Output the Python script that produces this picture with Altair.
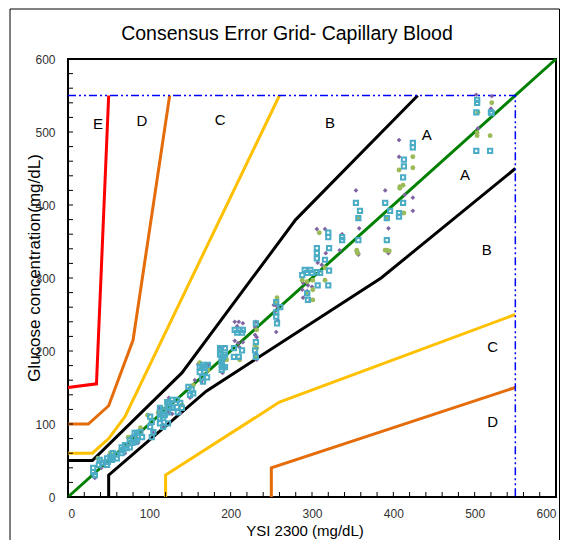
import altair as alt
import pandas as pd

# ---------------- text ----------------
title_text = "Consensus Error Grid- Capillary Blood"
x_title = "YSI 2300 (mg/dL)"
y_title = "Glucose concentration(mg/dL)"
tick_labels = [0, 100, 200, 300, 400, 500, 600]
minor_ticks = [0, 20, 40, 60, 80, 100, 120, 140, 160, 180, 200, 220, 240, 260, 280,
               300, 320, 340, 360, 380, 400, 420, 440, 460, 480, 500, 520, 540, 560, 580, 600]

# ---------------- zone boundaries (x, y) ----------------
diag = [(0, 0), (600, 600)]
black_upper = [(0, 50), (30, 50), (140, 170), (280, 380), (430, 550)]
black_lower = [(50, 0), (50, 30), (170, 145), (385, 300), (550, 450)]
yellow_upper = [(0, 60), (30, 60), (50, 80), (70, 110), (260, 550)]
yellow_lower = [(120, 0), (120, 30), (260, 130), (550, 250)]
orange_upper = [(0, 100), (25, 100), (50, 125), (80, 215), (125, 550)]
orange_lower = [(250, 0), (250, 40), (550, 150)]
red_upper = [(0, 150), (35, 155), (50, 550)]
limit_box = [(0, 550), (550, 550), (550, 0)]

# zone letters
zone_letters = ["E", "D", "C", "B", "A", "A", "B", "C", "D"]
zone_x = [37, 91, 187, 322, 441, 488, 515, 522, 522]
zone_y = [511, 515, 516, 512, 496, 441, 338, 205, 103]

# ---------------- measurements ----------------
purple_pts = [(33, 26), (41, 40), (45, 47), (70, 60), (80, 84), (86, 74), (91, 92), (103, 92),
              (105, 88), (123, 116), (125, 115), (116, 96), (112, 122), (117, 99), (124, 136),
              (128, 114), (135, 130), (138, 115), (150, 136), (156, 160), (160, 182), (172, 181),
              (164, 158), (190, 205), (190, 170), (186, 205), (189, 204), (205, 240), (210, 240),
              (208, 234), (215, 238), (205, 214), (209, 211), (215, 212), (211, 205), (231, 240),
              (230, 233), (230, 222), (232, 219), (231, 197), (232, 188), (253, 263), (258, 260),
              (254, 252), (258, 242), (256, 226), (255, 263), (289, 293), (295, 290), (300, 288),
              (288, 284), (294, 282), (289, 273), (298, 270), (306, 367), (316, 367), (337, 360),
              (317, 334), (334, 338), (307, 321), (312, 318), (355, 336), (357, 332), (354, 420),
              (358, 368), (357, 334), (390, 420), (392, 382), (394, 368), (394, 334), (414, 414),
              (424, 410), (424, 392), (407, 489), (407, 466), (502, 551), (521, 549), (520, 532),
              (504, 505)]

green_pts = [(37, 53), (52, 60), (74, 82), (89, 95), (98, 112), (111, 115), (120, 122), (140, 126),
             (154, 153), (162, 184), (172, 174), (193, 188), (195, 188), (211, 188), (232, 229),
             (230, 208), (232, 204), (231, 192), (257, 273), (255, 267), (288, 297), (294, 295),
             (301, 297), (316, 297), (295, 279), (301, 284), (301, 270), (309, 362), (316, 314),
             (356, 334), (355, 338), (357, 382), (392, 338), (395, 337), (390, 338), (408, 425),
             (412, 427), (413, 389), (424, 466), (407, 448), (424, 451), (408, 423), (521, 540),
             (504, 527), (503, 499), (503, 495), (519, 495), (392, 382)]

cyan_pts = [(31, 40), (31, 34), (33, 30), (39, 51), (42, 47), (38, 44), (48, 53), (52, 55), (49, 48),
            (54, 51), (48, 44), (55, 60), (59, 58), (55, 53), (60, 53), (66, 68), (70, 71), (68, 64),
            (72, 67), (66, 60), (76, 78), (80, 81), (79, 74), (82, 75), (76, 68), (82, 88), (85, 88),
            (89, 89), (86, 82), (91, 82), (85, 78), (101, 110), (103, 103), (101, 96), (105, 89),
            (103, 82), (113, 122), (117, 119), (116, 112), (119, 112), (113, 108), (117, 96),
            (123, 101), (123, 129), (128, 133), (125, 123), (113, 116), (117, 108), (113, 101),
            (122, 130), (125, 129), (123, 123), (128, 122), (123, 116), (134, 133), (138, 129),
            (134, 123), (140, 122), (135, 116), (148, 151), (152, 147), (150, 140), (154, 142),
            (162, 178), (168, 178), (162, 171), (168, 171), (165, 164), (171, 164), (166, 158),
            (187, 204), (193, 204), (187, 195), (193, 195), (189, 185), (193, 178), (189, 174),
            (166, 181), (172, 181), (165, 177), (187, 201), (187, 197), (191, 192), (189, 188),
            (189, 181), (191, 178), (205, 229), (211, 229), (215, 229), (208, 225), (214, 225),
            (204, 204), (214, 201), (204, 192), (210, 192), (231, 238), (231, 212), (230, 201),
            (231, 192), (256, 267), (256, 253), (256, 247), (257, 238), (261, 260), (291, 311),
            (298, 311), (294, 307), (300, 307), (288, 304), (306, 308), (310, 307), (307, 290),
            (320, 290), (294, 279), (295, 270), (320, 362), (320, 356), (337, 356), (337, 352),
            (306, 341), (306, 334), (306, 327), (321, 341), (316, 325), (321, 310), (354, 403),
            (359, 392), (357, 382), (357, 352), (390, 403), (396, 392), (392, 382), (392, 352),
            (412, 403), (407, 389), (407, 384), (424, 485), (424, 479), (413, 462), (413, 453),
            (412, 438), (503, 544), (503, 540), (502, 527), (520, 527), (521, 526), (502, 474),
            (519, 474)]

# ---------------- build tables ----------------
line_names = ["green", "black_u", "black_l", "yellow_u", "yellow_l", "orange_u", "orange_l", "red_u"]
line_sets = [diag, black_upper, black_lower, yellow_upper, yellow_lower, orange_upper, orange_lower, red_upper]
line_colors = ["#008000", "#000000", "#000000", "#FFC000", "#FFC000", "#E46C0A", "#E46C0A", "#FF0000"]
rows = []
for n, pts in zip(line_names, line_sets):
    for i, (x, y) in enumerate(pts):
        rows.append({"name": n, "i": i, "x": x, "y": y})
lines_df = pd.DataFrame(rows)
box_df = pd.DataFrame([{"i": i, "x": x, "y": y} for i, (x, y) in enumerate(limit_box)])

def pts_df(p):
    return pd.DataFrame({"x": [a for a, b in p], "y": [b for a, b in p]})

W, H = 488, 438
FONT = "Liberation Sans"

def X(f):
    return alt.X(f, type="quantitative", scale=alt.Scale(domain=[0, 600], nice=False, zero=False),
                 axis=alt.Axis(values=tick_labels, ticks=False, tickSize=0, domain=False, grid=False,
                               labelPadding=11, title=None, labelFontSize=12, labelFont=FONT,
                               labelColor="#333333"))

def Y(f):
    return alt.Y(f, type="quantitative", scale=alt.Scale(domain=[0, 600], nice=False, zero=False),
                 axis=alt.Axis(values=tick_labels, ticks=False, tickSize=0, domain=False, grid=False,
                               labelPadding=13, title=None, labelFontSize=12, labelFont=FONT,
                               labelColor="#333333"))

lines = alt.Chart(lines_df).mark_line(strokeWidth=3).encode(
    x=X("x"), y=Y("y"),
    color=alt.Color("name:N", scale=alt.Scale(domain=line_names, range=line_colors), legend=None),
    detail="name:N", order=alt.Order("i:Q"))

box = alt.Chart(box_df).mark_line(strokeWidth=1.5, color="#0000FF", strokeDash=[8, 3, 2, 3, 2, 3]).encode(
    x=X("x"), y=Y("y"), order=alt.Order("i:Q"))

purple = alt.Chart(pts_df(purple_pts)).mark_point(shape="diamond", filled=True, size=22,
                                                   color="#8064A2", opacity=1).encode(x=X("x"), y=Y("y"))
green = alt.Chart(pts_df(green_pts)).mark_circle(size=24, color="#9BBB59", opacity=1).encode(x=X("x"), y=Y("y"))
cyan = alt.Chart(pts_df(cyan_pts)).mark_point(shape="square", filled=False, size=18, strokeWidth=2,
                                               color="#4BACC6", opacity=1).encode(x=X("x"), y=Y("y"))

zones = alt.Chart(pd.DataFrame({"t": zone_letters, "x": zone_x, "y": zone_y})).mark_text(
    fontSize=15, font=FONT, color="#000000").encode(x=X("x"), y=Y("y"), text="t:N")

ticks_df = pd.DataFrame({"v": minor_ticks})
xticks = alt.Chart(ticks_df).mark_rule(color="black", strokeWidth=1).encode(
    x=X("v"), y=alt.value(H), y2=alt.value(H - 5))
yticks = alt.Chart(ticks_df).mark_rule(color="black", strokeWidth=1).encode(
    y=Y("v"), x=alt.value(0), x2=alt.value(5))

title = alt.Chart(pd.DataFrame({"t": [title_text]})).mark_text(
    fontSize=19.5, font=FONT, color="#000000", baseline="middle").encode(
    text="t:N", x=alt.value(219), y=alt.value(-25))
xlab = alt.Chart(pd.DataFrame({"t": [x_title]})).mark_text(
    fontSize=15, font=FONT, color="#000000", baseline="alphabetic").encode(
    text="t:N", x=alt.value(237), y=alt.value(H + 39))
ylab = alt.Chart(pd.DataFrame({"t": [y_title]})).mark_text(
    fontSize=17, font=FONT, color="#000000", baseline="middle", angle=270).encode(
    text="t:N", x=alt.value(-33), y=alt.value(209))

frame = alt.Chart(pd.DataFrame({"a": [0]})).mark_rect(fill="transparent", stroke="black", strokeWidth=1).encode(
    x=alt.value(-58), x2=alt.value(491.5), y=alt.value(-50), y2=alt.value(H + 70))

chart = alt.layer(frame, lines, box, purple, green, cyan, zones, xticks, yticks, title, xlab, ylab).properties(
    width=W, height=H,
    autosize=alt.AutoSizeParams(type="none"),
    padding={"left": 60, "top": 51, "right": 5, "bottom": 43},
    background="white",
).configure_view(stroke="black", strokeWidth=2)

chart.save("out.html", embed_options={"renderer": "svg", "actions": False})
